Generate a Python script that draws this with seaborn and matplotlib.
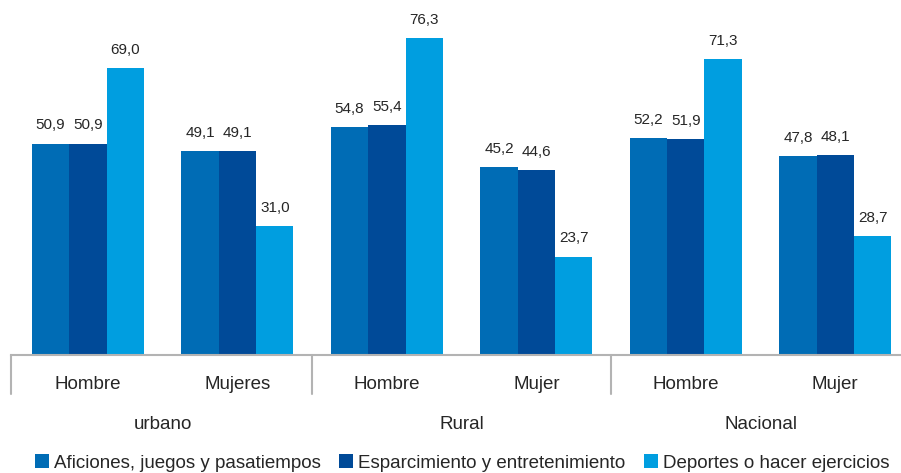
import pandas as pd
import seaborn as sns
import matplotlib.pyplot as plt
from matplotlib.patches import Patch

# Data
groups = ['urbano', 'Rural', 'Nacional']
sexes = ['Hombre', 'Mujeres', 'Hombre', 'Mujer', 'Hombre', 'Mujer']
series = ['Aficiones, juegos y pasatiempos',
          'Esparcimiento y entretenimiento',
          'Deportes o hacer ejercicios']
aficiones = [50.9, 49.1, 54.8, 45.2, 52.2, 47.8]
esparcimiento = [50.9, 49.1, 55.4, 44.6, 51.9, 48.1]
deportes = [69.0, 31.0, 76.3, 23.7, 71.3, 28.7]
colors = ['#006cb5', '#004a98', '#009ee0']

# Long-form table for seaborn
keys = [f'c{i}' for i in range(len(sexes))]
df = pd.DataFrame({
    'key': keys * 3,
    'serie': [s for s in series for _ in keys],
    'valor': aficiones + esparcimiento + deportes,
})

sns.set_style('white')
plt.rcParams['font.family'] = ['Liberation Sans', 'DejaVu Sans']
text_col = '#262626'
line_col = '#b3b3b3'

fig = plt.figure(figsize=(9.01, 4.73), dpi=100)
ax = fig.add_axes([11 / 901, 1 - 355 / 473, 890 / 901, 332.4 / 473])

sns.barplot(data=df, x='key', y='valor', hue='serie', order=keys,
            hue_order=series, palette=colors, width=0.75, saturation=1,
            linewidth=0, ax=ax, legend=False)

# Value labels with decimal comma
for cont in ax.containers:
    vals = cont.datavalues
    ax.bar_label(cont, labels=[f'{v:.1f}'.replace('.', ',') for v in vals],
                 padding=8, fontsize=11, color=text_col)

ax.set_ylim(0, 80)
ax.set_xlim(-0.515, 5.44)
ax.set_yticks([])
ax.set_xlabel('')
ax.set_ylabel('')
ax.set_xticks(range(len(sexes)))
ax.set_xticklabels(sexes, fontsize=13.5, color=text_col)
ax.tick_params(axis='x', length=0, pad=15)

for s in ['top', 'right', 'left']:
    ax.spines[s].set_visible(False)
ax.spines['bottom'].set_color(line_col)
ax.spines['bottom'].set_linewidth(1.5)

# Group separators and group labels
trans = ax.get_xaxis_transform()
for xs in [-0.515, 1.5, 3.5]:
    ax.plot([xs, xs], [0, -0.117], transform=trans, color=line_col,
            lw=1.5, clip_on=False)
for i, g in enumerate(groups):
    ax.text(2 * i + 0.5, -0.21, g, transform=trans, ha='center',
            va='center', fontsize=13.5, color=text_col)

# Legend at the bottom
handles = [Patch(facecolor=c, edgecolor='none', label=s)
           for c, s in zip(colors, series)]
fig.legend(handles=handles, loc='center', bbox_to_anchor=(0.513, 0.021),
           ncol=3, frameon=False, fontsize=13.5, handlelength=0.75,
           handleheight=0.75, handletextpad=0.25, columnspacing=1.0,
           labelcolor=text_col)

plt.savefig('out.png', dpi=100)
plt.close()
